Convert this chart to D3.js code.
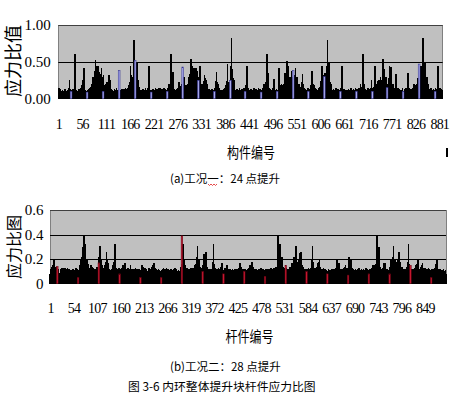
<!DOCTYPE html>
<html><head><meta charset="utf-8">
<script src="https://cdn.jsdelivr.net/npm/d3@7"></script>
<style>html,body{margin:0;padding:0;background:#fff;}svg{display:block;}</style>
</head><body>
<svg id="c" width="451" height="397"></svg>
<script>
// ---- Panel (a): stress ratio of each member ×100, 24-point lifting ----
const topValues = [
12,14,10,8,13,9,11,7,10,12,8,9,11,6,10,13,9,7,11,10,8,12,9,14,11,25,13,9,7,10,8,12,10,9,13,11,8,
14,61,18,10,8,12,9,7,11,10,8,13,9,10,14,12,18,15,26,20,14,22,41,19,12,9,11,8,10,9,12,8,10,13,9,11,14,
12,16,14,20,18,24,29,22,30,26,38,52,40,45,34,42,28,44,31,36,22,28,18,33,26,41,30,24,19,10,32,15,18,12,16,14,20,
17,22,14,18,12,20,32,24,15,25,13,10,8,12,9,11,7,10,13,9,8,12,10,14,9,11,8,12,10,38,9,12,8,11,10,13,9,
10,12,9,13,11,8,12,14,10,9,13,11,15,12,18,14,22,16,45,24,32,18,26,20,30,22,80,35,24,52,28,38,22,50,30,18,25,
15,12,16,10,8,12,9,11,7,10,13,9,8,12,10,9,14,11,8,12,10,15,12,18,45,14,10,8,12,9,11,8,10,13,9,11,8,
12,9,14,10,8,11,13,9,12,10,15,11,8,12,14,10,9,13,11,8,12,10,14,9,11,13,10,8,12,10,14,11,9,20,15,12,18,
22,61,28,18,24,36,16,12,9,13,10,8,12,11,9,13,10,15,12,16,22,14,11,17,13,20,15,18,43,24,16,30,14,18,12,16,14,
15,18,14,20,30,22,26,18,34,28,54,30,24,45,26,33,22,41,30,36,24,41,28,20,38,22,16,25,18,30,22,45,26,18,14,20,16,
20,14,18,24,32,20,28,16,25,12,14,20,11,9,13,10,10,8,12,9,11,8,13,10,9,12,10,10,14,10,18,24,36,22,12,16,20,
14,12,15,10,8,12,9,11,10,8,12,9,13,10,11,14,12,18,15,24,47,22,16,20,14,18,22,25,30,44,83,34,40,22,28,16,25,
14,11,9,12,10,8,13,11,9,12,10,14,9,11,8,12,10,13,9,11,15,12,10,14,10,13,18,12,45,20,16,12,14,10,12,9,11,
10,13,9,12,8,11,14,10,15,12,9,11,13,10,8,12,10,9,14,11,12,8,13,10,9,11,12,10,14,9,13,20,16,12,18,22,30,
61,26,18,35,20,14,12,9,11,13,10,8,12,14,11,9,13,27,15,10,12,9,11,13,10,8,12,14,10,41,18,12,16,11,20,14,18,
16,12,20,15,24,35,22,28,18,32,51,26,34,45,24,30,20,30,26,22,38,24,30,18,38,26,32,22,28,41,24,18,26,30,20,15,18,
14,20,12,16,11,13,18,22,16,33,20,12,10,15,9,11,13,10,8,12,10,14,10,9,12,11,13,15,18,20,38,16,22,14,20,16,18,
15,12,10,13,9,11,8,12,10,14,11,16,13,20,18,24,20,45,22,28,18,32,30,24,35,22,28,20,44,80,36,26,30,50,24,18,22,
20,14,11,9,12,10,13,8,11,10,12,9,14,11,10,8,12,13,9,11,10,12,10,14,11,12,45,15,10,12,9,13,11,10,8,12,10,
9,12,10,8,13,11,9,12,10,14,11,8,12,10,9,13,11,10,12,9,14,10,10,11,13,9,12,10,15,12,14,11,20,16,12,15,22,
61,24,16,20,12,10,13,9,11,8,12,10,14,9,11,13,10,12,15,11,25,14,10,11,13,10,16,12,44,18,14,20,16,13,24,18,22,
25,18,22,16,30,20,26,18,35,28,54,30,24,40,26,20,30,22,16,15,20,14,24,18,28,45,30,22,43,26,18,14,20,12,10,14,11,
13,10,16,33,18,12,10,15,9,11,13,10,8,12,9,11,10,12,14,10,8,11,13,9,12,10,14,11,13,10,15,35,14,12,9,11,13,
10,12,9,13,11,14,12,20,14,16,12,18,14,20,16,25,20,28,22,47,26,32,24,30,45,28,36,48,82,40,30,34,50,28,22,26,18,
30,16,12,14,20,12,10,13,9,11,14,10,12,8,11,13,9,12,10,10,14,11,13,9,12,10,45,16,12,10,15,12,10,13,9,11,12
];
// members at the 24 lifting points (0-based position), drawn in blue
const topLiftIdx = [29,66,103,140,177,214,251,287,323,360,397,431,468,505,542,577,614,651,688,725,759,796,833,870];
const topXTicks = [1,56,111,166,221,276,331,386,441,496,551,606,661,716,771,826,881];
const topYTicks = [0,0.5,1];
const topYLabels = ["0.00","0.50","1.00"];

// ---- Panel (b): stress ratio ×100, 28-point lifting ----
const bottomValues = [
8,12,10,14,11,15,12,13,16,20,18,12,9,14,11,13,14,10,8,12,9,7,5,10,12,9,13,11,10,12,11,13,10,12,9,13,11,10,12,13,10,11,9,12,8,10,11,
9,11,8,10,12,8,10,9,11,10,8,11,13,12,10,9,5,11,9,13,12,15,20,14,18,22,30,16,24,39,26,18,22,32,17,14,20,12,16,13,15,11,13,10,12,15,11,
12,10,14,13,11,9,12,10,8,12,11,9,14,13,12,16,17,22,31,18,14,20,20,15,14,12,10,13,11,14,15,18,14,26,20,16,12,17,13,10,12,9,10,11,8,12,10,
12,15,10,18,22,32,16,12,10,13,11,9,12,10,11,13,8,10,12,10,9,13,11,12,15,13,10,14,17,15,12,10,12,11,9,13,10,10,8,12,11,15,10,12,9,10,12,
11,9,12,10,8,13,11,10,12,9,11,8,10,12,9,7,5,9,11,13,15,12,10,14,11,12,13,10,9,11,12,10,10,8,11,9,13,12,12,10,11,14,13,15,11,12,14,
17,14,12,13,10,12,9,11,10,10,12,9,11,8,10,9,5,8,11,12,10,13,12,10,11,9,12,10,13,11,9,10,12,8,11,10,10,9,12,10,8,8,11,9,12,10,13,
13,11,9,10,12,8,10,9,11,7,5,8,10,12,14,16,39,22,32,18,30,20,16,15,12,10,11,13,9,13,12,10,11,9,12,10,11,13,10,12,9,13,11,12,14,13,15,
13,16,18,22,31,20,16,14,20,15,12,14,12,10,13,11,10,15,18,24,16,20,14,26,20,18,12,14,11,10,12,9,11,10,10,12,8,11,14,18,32,16,12,10,13,11,9,
10,12,8,11,9,13,10,12,9,12,14,11,17,13,10,9,8,11,12,10,13,11,12,14,15,12,10,12,9,11,10,12,8,10,11,9,12,10,11,8,10,9,12,10,11,9,12,
10,12,9,11,13,12,15,17,14,11,13,12,10,9,11,12,10,11,9,12,8,10,11,9,12,12,10,13,14,15,12,14,16,18,15,12,14,13,11,10,12,9,11,10,12,9,11,
11,10,8,12,9,11,10,13,12,10,9,11,12,10,8,11,6,10,12,9,11,8,10,12,9,11,10,12,12,9,13,11,10,12,11,9,12,13,11,10,12,14,11,10,13,16,39,
24,18,14,32,20,16,14,22,15,12,14,12,10,13,11,12,15,11,13,12,10,12,9,11,10,12,14,11,13,12,17,14,12,16,18,22,15,20,24,31,18,14,16,18,13,15,20,
25,18,22,16,26,20,15,12,14,11,12,10,10,12,9,11,10,12,9,11,13,10,12,9,8,11,13,15,20,31,18,14,11,12,10,13,9,11,10,12,14,12,17,15,18,20,14,
12,11,9,10,12,11,9,13,12,10,11,9,12,10,11,9,8,10,10,12,9,11,10,8,11,9,12,10,11,10,12,9,11,10,12,10,13,16,20,14,12,15,17,13,11,12,10,
12,10,11,9,12,10,13,11,12,14,15,12,10,11,13,9,7,14,22,16,18,14,20,15,12,13,11,12,9,10,11,9,10,12,8,10,11,9,12,11,13,10,12,9,11,10,12,
11,9,8,10,12,9,11,10,10,13,11,9,10,12,11,10,8,11,9,12,12,10,13,11,14,15,12,13,11,15,13,16,12,18,22,39,20,16,24,30,18,14,13,11,12,10,12,
13,11,14,17,12,15,13,17,12,11,10,12,9,11,10,9,8,14,20,16,18,20,15,22,18,31,20,16,14,20,15,18,16,17,14,20,18,26,16,14,18,13,12,11,14,12,10,
11,10,12,9,11,10,12,14,11,13,15,18,32,16,12,11,15,10,12,11,12,9,11,10,12,11,10,13,12,15,13,16,14,20,15,12,11,10,12,13,14,12,15,17,13,11,12,
12,11,13,10,12,10,11,9,12,11,13,10,12,9,11,8,5,10,12,9,10,11,12,10,13,11,14,16,12,20,15,11,12,10,11,9,12,10,11,10,9,11,10,9,12,8,10,
9,11,8
];
// members at the lifting points (0-based position), drawn in red
const bottomLiftIdx = [16,63,110,157,204,251,298,345,392,439,486,533,580,627,674,721,768,815,862];
const bottomXTicks = [1,54,107,160,213,266,319,372,425,478,531,584,637,690,743,796,849];
const bottomYTicks = [0,0.2,0.4,0.6];
const bottomYLabels = ["0","0.2","0.4","0.6"];

const captionA = "(a)工况一：24 点提升";
const captionB = "(b)工况二：28 点提升";
const figTitle = "图 3-6 内环整体提升块杆件应力比图";

const svg = d3.select("#c");
const CJK = "'Noto Sans CJK SC', 'Noto Sans', sans-serif";
const SERIF = "'Times New Roman', 'Liberation Serif', serif";

function panel(c) {
  const g = svg.append("g");
  const cats = d3.range(1, c.values.length + 1);
  const x = d3.scaleBand().domain(cats).range([c.left, c.right]).padding(0);
  const y = d3.scaleLinear().domain([0, c.yMax]).range([c.bottom, c.top]);

  g.append("rect").attr("x", c.left).attr("y", c.top)
    .attr("width", c.right - c.left).attr("height", c.bottom - c.top)
    .attr("fill", "#c0c0c0").attr("stroke", "#808080").attr("stroke-width", 1)
    .attr("shape-rendering", "crispEdges");

  g.append("g").selectAll("line").data(c.yTicks.filter(v => v > 0)).join("line")
    .attr("x1", c.left).attr("x2", c.right)
    .attr("y1", d => Math.round(y(d)) + 0.5).attr("y2", d => Math.round(y(d)) + 0.5)
    .attr("stroke", d => d === c.yMax ? "#404040" : "#000").attr("stroke-width", 1);

  const hl = new Set(c.hlIdx);
  const bw = 1.6;
  g.append("g").attr("shape-rendering", "crispEdges")
    .selectAll("rect").data(cats.filter(i => !hl.has(i - 1))).join("rect")
    .attr("x", i => x(i) + x.bandwidth() / 2 - bw / 2).attr("width", bw)
    .attr("y", i => y(c.values[i - 1] / 100))
    .attr("height", i => c.bottom - y(c.values[i - 1] / 100))
    .attr("fill", "#000");

  g.append("g").selectAll("rect").data(c.hlIdx).join("rect")
    .attr("x", i => x(i + 1) + x.bandwidth() / 2 - c.hlW / 2).attr("width", c.hlW)
    .attr("y", i => y(c.values[i] / 100))
    .attr("height", i => c.bottom - y(c.values[i] / 100))
    .attr("fill", c.hlFill).attr("stroke", c.hlStroke).attr("stroke-width", 0.5);

  const ax = g.append("g").attr("transform", `translate(0,${c.bottom})`)
    .call(d3.axisBottom(x).tickValues(c.xTicks).tickSize(0).tickFormat(d => String(d)));
  ax.select(".domain").remove();
  ax.selectAll("text").attr("y", c.xLabelBase).attr("dy", null)
    .style("font-family", SERIF).style("font-size", "14px")
    .style("letter-spacing", "-0.8px").attr("fill", "#000");

  const ay = g.append("g").attr("transform", `translate(${c.left},0)`)
    .call(d3.axisLeft(y).tickValues(c.yTicks).tickSize(0).tickPadding(c.yPad)
      .tickFormat((d, i) => c.yLabels[i]));
  ay.select(".domain").remove();
  ay.selectAll("text").style("font-family", SERIF).style("font-size", "15px").attr("fill", "#000");

  svg.append("text").attr("transform", `translate(${c.yTitleX},${c.yTitleY}) rotate(-90)`)
    .attr("text-anchor", "middle").attr("dominant-baseline", "central")
    .style("font-family", CJK).style("font-size", c.yTitleSize + "px").attr("fill", "#000")
    .text(c.yTitle);

  svg.append("text").attr("x", c.xTitleX).attr("y", c.xTitleY)
    .attr("text-anchor", "middle").attr("dominant-baseline", "central")
    .style("font-family", CJK).style("font-size", "15px").attr("fill", "#000")
    .attr("textLength", 48).attr("lengthAdjust", "spacingAndGlyphs")
    .text(c.xTitle);
}

panel({
  values: topValues, hlIdx: topLiftIdx, hlFill: "#a8a8e8", hlStroke: "#2a2a8a", hlW: 1.8,
  left: 58.3, right: 442.7, top: 25, bottom: 98.7, yMax: 1,
  xTicks: topXTicks, yTicks: topYTicks, yLabels: topYLabels, yPad: 7.6, xLabelBase: 30.6,
  yTitle: "应力比值", yTitleX: 12, yTitleY: 61, yTitleSize: 18,
  xTitle: "构件编号", xTitleX: 251, xTitleY: 151
});

panel({
  values: bottomValues, hlIdx: bottomLiftIdx, hlFill: "#c81830", hlStroke: "#600010", hlW: 1.6,
  left: 50, right: 446, top: 210, bottom: 283.7, yMax: 0.6,
  xTicks: bottomXTicks, yTicks: bottomYTicks, yLabels: bottomYLabels, yPad: 6.5, xLabelBase: 29.6,
  yTitle: "应力比图", yTitleX: 12.5, yTitleY: 247, yTitleSize: 16,
  xTitle: "杆件编号", xTitleX: 249.5, xTitleY: 335.5
});

// captions
svg.append("text").attr("x", 170).attr("y", 178).attr("dominant-baseline", "central")
  .style("font-family", CJK).style("font-size", "11.5px").attr("fill", "#000").text(captionA);
svg.append("path").attr("d", "M208,184 l1.5,1.5 l1.5,-1.5 l1.5,1.5 l1.5,-1.5 l1.5,1.5 l1.5,-1.5")
  .attr("fill", "none").attr("stroke", "#e02020").attr("stroke-width", 0.8);
svg.append("text").attr("x", 170).attr("y", 366).attr("dominant-baseline", "central")
  .style("font-family", CJK).style("font-size", "11.5px").attr("fill", "#000").text(captionB);
svg.append("text").attr("x", 128).attr("y", 385.7).attr("dominant-baseline", "central")
  .style("font-family", CJK).style("font-size", "11.8px").attr("fill", "#000").text(figTitle);
// small cursor mark at right
svg.append("rect").attr("x", 446).attr("y", 148).attr("width", 2).attr("height", 9).attr("fill", "#000");
</script>
</body></html>
